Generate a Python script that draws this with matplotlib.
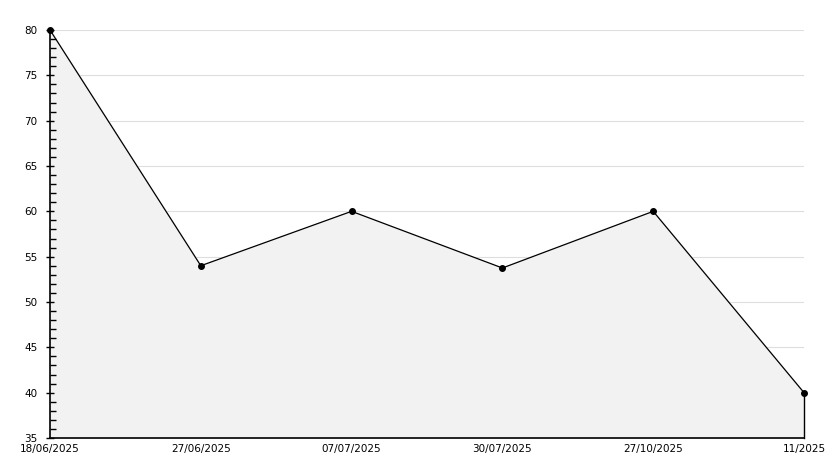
import matplotlib
matplotlib.use('Agg')
import matplotlib.pyplot as plt
from matplotlib.ticker import MultipleLocator

labels = ['18/06/2025', '27/06/2025', '07/07/2025', '30/07/2025', '27/10/2025', '11/2025']
values = [80, 54, 60, 53.75, 60, 40]
grid_levels = [40, 45, 50, 55, 60, 65, 70, 75, 80]

x = list(range(len(labels)))

fig = plt.figure(figsize=(8.34, 4.68), dpi=100)
ax = fig.add_axes([50/834, 1 - 438/468, 754/834, 408/468])

# grid drawn by hand so it stays under the area while ticks stay on top
for g in grid_levels:
    ax.axhline(g, color='#dedede', lw=0.8, zorder=1)

ax.fill_between(x, values, 35, color='#f2f2f2', zorder=2)
ax.plot([x[-1], x[-1]], [35, values[-1]], color='black', lw=1, zorder=3, clip_on=False)
ax.plot(x, values, color='black', lw=0.9, marker='o', ms=4, zorder=4, clip_on=False)

ax.set_xlim(0, len(labels) - 1)
ax.set_ylim(35, 80)
ax.yaxis.set_major_locator(MultipleLocator(5))
ax.yaxis.set_minor_locator(MultipleLocator(1))
ax.set_xticks(x)
ax.set_xticklabels(labels)
ax.set_axisbelow(False)

for side in ['top', 'right']:
    ax.spines[side].set_visible(False)
ax.spines['left'].set_linewidth(1.2)
ax.spines['bottom'].set_linewidth(1.2)
ax.spines['left'].set_zorder(5)
ax.spines['bottom'].set_zorder(5)

ax.tick_params(axis='y', which='major', direction='inout', length=6, width=1, labelsize=7.5, pad=6)
ax.tick_params(axis='y', which='minor', direction='in', length=4, width=1)
ax.tick_params(axis='x', length=0, labelsize=7.5, pad=4)

plt.savefig('out.png', dpi=100)
